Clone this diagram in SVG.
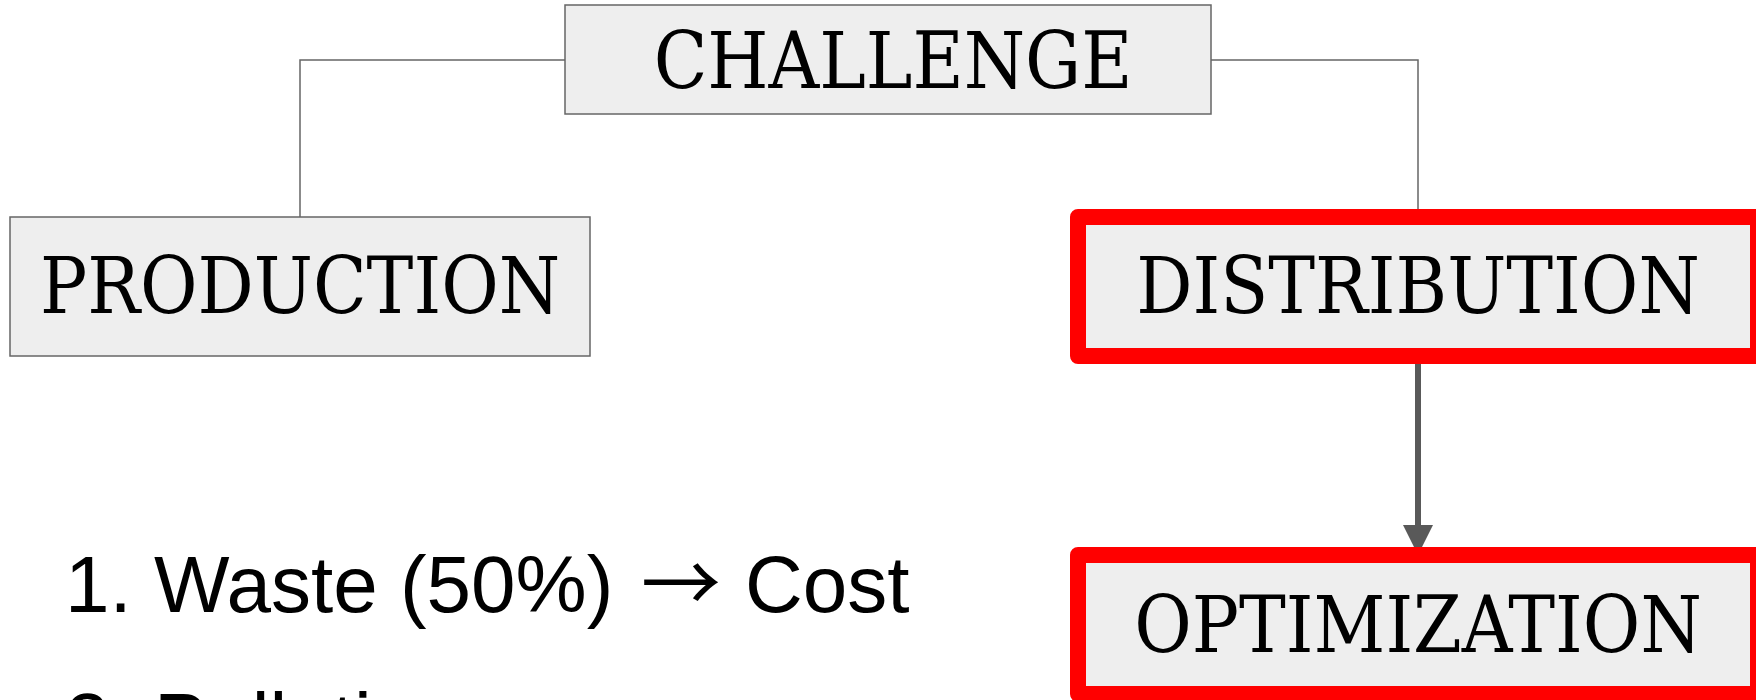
<svg xmlns="http://www.w3.org/2000/svg" width="1756" height="700" viewBox="0 0 1756 700">
  <defs>
    <style>
      .box { fill: #eeeeee; stroke: #666666; stroke-width: 1.5; }
      .hl { fill: #eeeeee; stroke: #ff0000; stroke-width: 16; stroke-linejoin: round; }
      .lbl { font-family: "DejaVu Serif Condensed", "DejaVu Serif", serif; font-stretch: condensed; font-size: 78px; fill: #000000; text-anchor: middle; }
      .conn { fill: none; stroke: #666666; stroke-width: 1.5; }
      .arrow { fill: none; stroke: #595959; stroke-width: 6; }
      .list { font-family: "Liberation Sans", Arial, sans-serif; font-size: 80px; fill: #000000; }
      .sym { font-family: "Noto Sans CJK SC", "DejaVu Sans", sans-serif; }
    </style>
    <marker id="ah" viewBox="0 0 30 30" refX="30" refY="15" markerWidth="30" markerHeight="30" markerUnits="userSpaceOnUse" orient="auto">
      <path d="M0,0 L30,15 L0,30 Z" fill="#595959"/>
    </marker>
  </defs>
  <rect width="1756" height="700" fill="#ffffff"/>
  <g id="connectors">
    <polyline class="conn" points="565,60 300,60 300,217"/>
    <polyline class="conn" points="1211,60 1418,60 1418,217"/>
    <line class="arrow" x1="1418" y1="356" x2="1418" y2="555" marker-end="url(#ah)"/>
  </g>
  <g id="challenge">
    <rect class="box" x="565" y="5" width="646" height="109"/>
    <text class="lbl" x="893" y="88">CHALLENGE</text>
  </g>
  <g id="production">
    <rect class="box" x="10" y="217" width="580" height="139"/>
    <text class="lbl" x="300" y="313">PRODUCTION</text>
  </g>
  <g id="distribution">
    <rect class="hl" x="1078" y="217" width="680" height="139"/>
    <text class="lbl" x="1418" y="313">DISTRIBUTION</text>
  </g>
  <g id="optimization">
    <rect class="hl" x="1078" y="555" width="680" height="139"/>
    <text class="lbl" x="1418" y="652">OPTIMIZATION</text>
  </g>
  <g id="list">
    <text class="list" x="65" y="612"><tspan>1. Waste (50%) </tspan><tspan class="sym" x="641">→</tspan><tspan x="745">Cost</tspan></text>
    <text class="list" x="65" y="749">2. Pollution</text>
  </g>
</svg>
